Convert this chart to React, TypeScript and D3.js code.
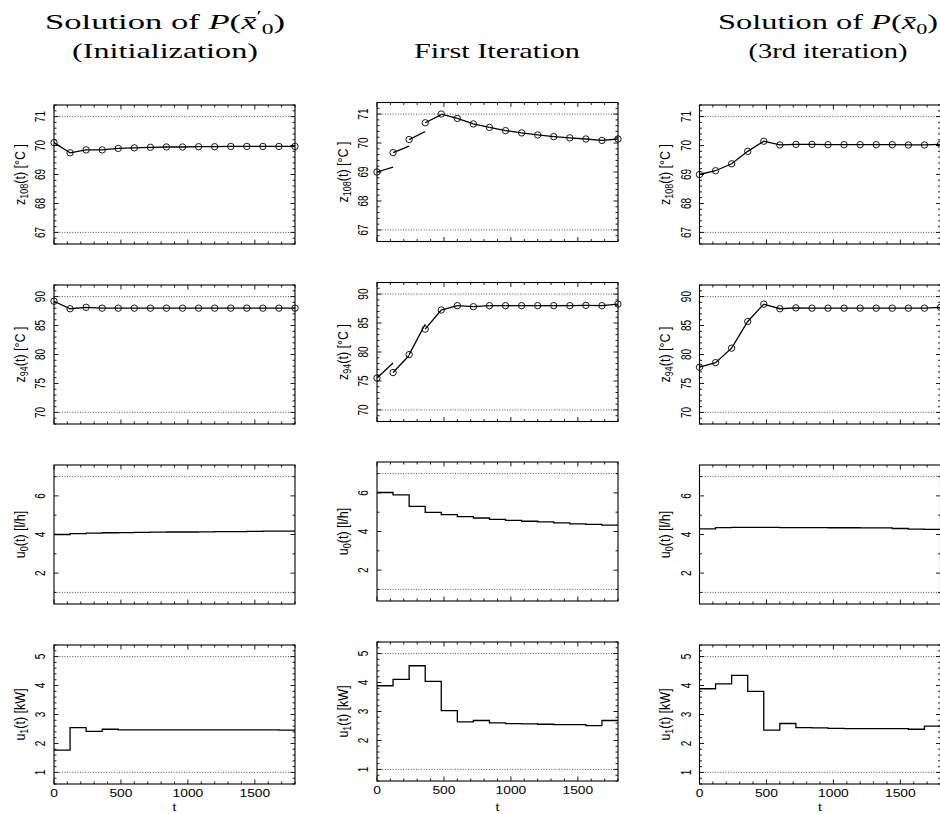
import React from 'react';
import * as d3 from 'd3';

// ---------------- data ----------------
const nodeTimes = [0, 120, 240, 360, 480, 600, 720, 840, 960, 1080, 1200, 1320, 1440, 1560, 1680, 1800];
const xMajorTicks = [0, 500, 1000, 1500];
const xMinorTicks = [0, 100, 200, 300, 400, 500, 600, 700, 800, 900, 1000, 1100, 1200, 1300, 1400, 1500, 1600, 1700, 1800];

// state z108 (node values)
const z108Init = [70.1, 69.75, 69.85, 69.85, 69.9, 69.92, 69.94, 69.95, 69.95, 69.96, 69.96, 69.97, 69.97, 69.97, 69.97, 69.97];
const z108Iter1 = [69.0, 69.67, 70.12, 70.7, 71.0, 70.85, 70.66, 70.54, 70.43, 70.35, 70.28, 70.22, 70.18, 70.14, 70.09, 70.14];
const z108Iter1End = [69.17, 69.89, 70.4, 70.98, 70.85, 70.66, 70.54, 70.43, 70.35, 70.28, 70.22, 70.18, 70.14, 70.09, 70.14];
const z108Iter3 = [69.0, 69.13, 69.37, 69.8, 70.15, 70.02, 70.04, 70.04, 70.03, 70.03, 70.03, 70.03, 70.03, 70.02, 70.02, 70.04];

// state z94
const z94Init = [89.2, 87.9, 88.15, 88.0, 88.0, 88.0, 88.0, 88.0, 88.0, 88.0, 88.0, 88.0, 88.0, 88.0, 88.0, 88.0];
const z94Iter1 = [75.5, 76.45, 79.55, 83.95, 87.25, 88.0, 87.82, 88.0, 88.0, 88.0, 88.0, 88.0, 88.0, 88.05, 88.0, 88.28];
const z94Iter1End = [78.1, 79.4, 84.8, 87.25, 88.0, 87.82, 88.0, 88.0, 88.0, 88.0, 88.0, 88.0, 88.05, 88.0, 88.28];
const z94Iter3 = [77.8, 78.6, 81.1, 85.7, 88.7, 87.9, 88.05, 88.0, 88.0, 88.0, 88.0, 88.0, 88.0, 88.0, 88.0, 88.15];

// controls (piecewise constant on each interval)
const u0Init = [4.0, 4.05, 4.07, 4.09, 4.1, 4.11, 4.12, 4.13, 4.13, 4.14, 4.15, 4.15, 4.16, 4.17, 4.17];
const u0Iter1 = [6.02, 5.9, 5.3, 4.99, 4.87, 4.77, 4.7, 4.63, 4.58, 4.53, 4.5, 4.45, 4.4, 4.37, 4.33];
const u0Iter3 = [4.29, 4.36, 4.37, 4.37, 4.37, 4.36, 4.36, 4.36, 4.35, 4.35, 4.34, 4.34, 4.31, 4.28, 4.27];

const u1Init = [1.77, 2.55, 2.42, 2.49, 2.47, 2.47, 2.47, 2.47, 2.47, 2.47, 2.47, 2.47, 2.47, 2.47, 2.46];
const u1Iter1 = [3.89, 4.11, 4.58, 4.04, 3.03, 2.64, 2.69, 2.61, 2.58, 2.57, 2.56, 2.55, 2.55, 2.51, 2.69];
const u1Iter3 = [3.89, 4.06, 4.35, 3.8, 2.46, 2.69, 2.55, 2.54, 2.52, 2.51, 2.51, 2.51, 2.51, 2.49, 2.6];

// axes
const z108Ticks = [67, 68, 69, 70, 71];
const z94Ticks = [70, 75, 80, 85, 90];
const u0Ticks = [2, 4, 6];
const u1Ticks = [1, 2, 3, 4, 5];
const z108Limits = [67, 71];
const z94Limits = [70, 90];
const u0Limits = [1, 7];
const u1Limits = [1, 5];

// ---------------- layout ----------------
const W = 940;
const H = 814;
const colX = [54, 377, 699.5];
const colCenter = [165, 497, 828];
const colW = 241;
const rowTop = [
  [105, 285, 465, 645],
  [102.5, 282.5, 462, 642],
  [105, 285, 465, 645],
];
const panelH = 139;

const SANS = "'Liberation Sans', Arial, Helvetica, sans-serif";
const SERIF = "'Liberation Serif', 'Times New Roman', serif";
const STRETCH = 1.38;

type RowDef = {
  limits: number[];
  ticks: number[];
  minorStep: number;
  kind: 'state' | 'control';
  label: { base: string; sub: string; rest: string };
  series: any[];
};

const rows: RowDef[] = [
  {
    limits: z108Limits, ticks: z108Ticks, minorStep: 0.2, kind: 'state',
    label: { base: 'z', sub: '108', rest: '(t) [°C ]' },
    series: [{ nodes: z108Init }, { nodes: z108Iter1, ends: z108Iter1End }, { nodes: z108Iter3 }],
  },
  {
    limits: z94Limits, ticks: z94Ticks, minorStep: 1, kind: 'state',
    label: { base: 'z', sub: '94', rest: '(t) [°C ]' },
    series: [{ nodes: z94Init }, { nodes: z94Iter1, ends: z94Iter1End }, { nodes: z94Iter3 }],
  },
  {
    limits: u0Limits, ticks: u0Ticks, minorStep: 1, kind: 'control',
    label: { base: 'u', sub: '0', rest: '(t) [l/h]' },
    series: [{ steps: u0Init }, { steps: u0Iter1 }, { steps: u0Iter3 }],
  },
  {
    limits: u1Limits, ticks: u1Ticks, minorStep: 0.2, kind: 'control',
    label: { base: 'u', sub: '1', rest: '(t)  [kW]' },
    series: [{ steps: u1Init }, { steps: u1Iter1 }, { steps: u1Iter3 }],
  },
];

function Panel({ col, row }: { col: number; row: number }) {
  const def = rows[row];
  const x0 = colX[col];
  const y0 = rowTop[col][row];
  const [lo, hi] = def.limits;
  const ext = 0.1 * (hi - lo);
  const x = d3.scaleLinear().domain([0, 1800]).range([x0, x0 + colW]);
  const y = d3.scaleLinear().domain([lo - ext, hi + ext]).range([y0 + panelH, y0]);
  const [d0, d1] = y.domain();
  const minor = d3.range(Math.ceil(d0 / def.minorStep - 1e-9) * def.minorStep, d1 + 1e-9, def.minorStep)
    .map((v) => Math.round(v * 1000) / 1000)
    .filter((v) => !def.ticks.some((t) => Math.abs(t - v) < 1e-6));
  const s = def.series[col];
  const majorLen = 4.5;
  const minorLen = 2.5;
  const bottom = y0 + panelH;
  const right = x0 + colW;

  const line = d3.line<[number, number]>().x((d) => x(d[0])).y((d) => y(d[1]));
  const paths: string[] = [];
  if (def.kind === 'state') {
    if (s.ends) {
      s.ends.forEach((e: number, i: number) => {
        paths.push(line([[nodeTimes[i], s.nodes[i]], [nodeTimes[i + 1], e]]) as string);
      });
    } else {
      paths.push(line(s.nodes.map((v: number, i: number) => [nodeTimes[i], v])) as string);
    }
  } else {
    const pts: [number, number][] = s.steps.map((v: number, i: number) => [nodeTimes[i], v]);
    pts.push([nodeTimes[nodeTimes.length - 1], s.steps[s.steps.length - 1]]);
    paths.push(d3.line<[number, number]>().x((d) => x(d[0])).y((d) => y(d[1])).curve(d3.curveStepAfter)(pts) as string);
  }

  return (
    <g>
      {def.limits.map((v) => (
        <line key={'lim' + v} x1={x0} x2={right} y1={y(v)} y2={y(v)} stroke="#444" strokeWidth={0.9} strokeDasharray="1 1.6" />
      ))}
      {xMinorTicks.map((t) => {
        const len = xMajorTicks.includes(t) ? majorLen : minorLen;
        return (
          <g key={'xt' + t}>
            <line x1={x(t)} x2={x(t)} y1={bottom} y2={bottom - len} stroke="#000" strokeWidth={0.9} />
            <line x1={x(t)} x2={x(t)} y1={y0} y2={y0 + len} stroke="#000" strokeWidth={0.9} />
          </g>
        );
      })}
      {def.ticks.map((t) => (
        <g key={'yt' + t}>
          <line x1={x0} x2={x0 + majorLen} y1={y(t)} y2={y(t)} stroke="#000" strokeWidth={0.9} />
          <line x1={right} x2={right - majorLen} y1={y(t)} y2={y(t)} stroke="#000" strokeWidth={0.9} />
          <text
            transform={`translate(${x0 - 8.7},${y(t)}) scale(${STRETCH},1) rotate(-90)`}
            textAnchor="middle" fontFamily={SANS} fontSize={10} fill="#000"
          >{t}</text>
        </g>
      ))}
      {minor.map((t) => (
        <g key={'ym' + t}>
          <line x1={x0} x2={x0 + minorLen} y1={y(t)} y2={y(t)} stroke="#000" strokeWidth={0.9} />
          <line x1={right} x2={right - minorLen} y1={y(t)} y2={y(t)} stroke="#000" strokeWidth={0.9} />
        </g>
      ))}
      <rect x={x0} y={y0} width={colW} height={panelH} fill="none" stroke="#000" strokeWidth={1.1} />
      {paths.map((p, i) => (
        <path key={'p' + i} d={p} fill="none" stroke="#000" strokeWidth={1.3} />
      ))}
      {def.kind === 'state' && s.nodes.map((v: number, i: number) => (
        <circle key={'c' + i} cx={x(nodeTimes[i])} cy={y(v)} r={3.2} fill="none" stroke="#000" strokeWidth={0.9} />
      ))}
      <text
        transform={`translate(${x0 - 29.5},${y0 + panelH / 2}) scale(1.15,1) rotate(-90)`}
        textAnchor="middle" fontFamily={SANS} fontSize={12.5} fill="#000"
      >
        {def.label.base}
        <tspan fontSize={9} dy={3}>{def.label.sub}</tspan>
        <tspan dy={-3}>{def.label.rest}</tspan>
      </text>
      {row === 3 && xMajorTicks.map((t) => (
        <text key={'xl' + t} transform={`translate(${x(t)},${bottom + 12.5}) scale(${STRETCH},1)`}
          textAnchor="middle" fontFamily={SANS} fontSize={10} fill="#000">{t}</text>
      ))}
      {row === 3 && (
        <text transform={`translate(${x0 + colW / 2},${Math.min(bottom + 29.5, H - 3.5)}) scale(${STRETCH},1)`}
          textAnchor="middle" fontFamily={SANS} fontSize={10} fill="#000">t</text>
      )}
    </g>
  );
}

function Titles() {
  const fs = 22;
  return (
    <g fontFamily={SERIF} fontSize={fs} fill="#000">
      <text x={colCenter[0]} y={29} textAnchor="middle" textLength={240} lengthAdjust="spacingAndGlyphs">
        Solution of <tspan fontStyle="italic">P</tspan>(<tspan fontStyle="italic">x̄</tspan>
        <tspan fontSize={15} dy={-8}>′</tspan>
        <tspan fontSize={15} dy={13}>0</tspan>
        <tspan dy={-5}>)</tspan>
      </text>
      <text x={colCenter[0]} y={58} textAnchor="middle" textLength={186} lengthAdjust="spacingAndGlyphs">(Initialization)</text>
      <text x={colCenter[1]} y={58} textAnchor="middle" textLength={166} lengthAdjust="spacingAndGlyphs">First Iteration</text>
      <text x={colCenter[2]} y={29} textAnchor="middle" textLength={220} lengthAdjust="spacingAndGlyphs">
        Solution of <tspan fontStyle="italic">P</tspan>(<tspan fontStyle="italic">x̄</tspan>
        <tspan fontSize={15} dy={5}>0</tspan>
        <tspan dy={-5}>)</tspan>
      </text>
      <text x={colCenter[2]} y={58} textAnchor="middle" textLength={159} lengthAdjust="spacingAndGlyphs">(3rd iteration)</text>
    </g>
  );
}

export default function App() {
  const panels = [];
  for (let c = 0; c < 3; c++) {
    for (let r = 0; r < 4; r++) {
      panels.push(<Panel key={`${c}-${r}`} col={c} row={r} />);
    }
  }
  return (
    <svg width={W} height={H} viewBox={`0 0 ${W} ${H}`}
      style={{ position: 'absolute', left: 0, top: 0, background: '#fff' }}>
      <rect x={0} y={0} width={W} height={H} fill="#fff" />
      <Titles />
      {panels}
    </svg>
  );
}
